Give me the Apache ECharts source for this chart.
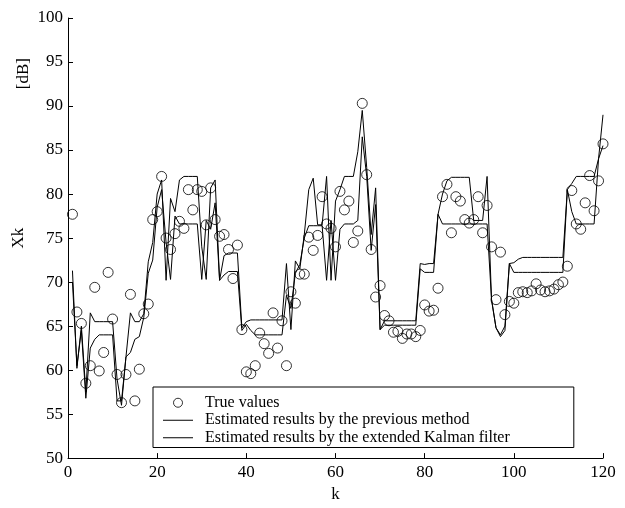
<!DOCTYPE html>
<html>
<head>
<meta charset="utf-8">
<script src="https://cdn.jsdelivr.net/npm/echarts@6/dist/echarts.min.js"></script>
<style>
html,body{margin:0;padding:0;background:#fff;}
#chart{width:625px;height:508px;}
</style>
</head>
<body>
<div id="chart"></div>
<script>
// k = 1..120
var trueValues = [
 77.7,66.6,65.3,58.5,60.5,69.4,59.9,62.0,71.1,65.8,
 59.5,56.3,59.5,68.6,56.5,60.1,66.4,67.5,77.1,78.0,
 82.0,75.0,73.7,75.5,76.9,76.1,80.5,78.2,80.5,80.3,
 76.5,80.7,77.1,75.2,75.4,73.7,70.4,74.2,64.6,59.8,
 59.6,60.5,64.2,63.0,61.9,66.5,62.5,65.6,60.5,68.9,
 67.6,70.9,70.9,75.1,73.6,75.3,79.7,76.6,76.1,74.0,
 80.3,78.2,79.2,74.5,75.8,90.3,82.2,73.7,68.3,69.6,
 66.2,65.6,64.3,64.4,63.6,64.1,64.1,63.8,64.5,67.4,
 66.7,66.8,69.3,79.7,81.1,75.6,79.7,79.2,77.1,76.7,
 77.1,79.7,75.6,78.7,74.0,68.0,73.4,66.3,67.8,67.6,
 68.8,68.9,68.8,69.0,69.8,69.1,68.9,69.0,69.2,69.7,
 70.0,71.8,80.4,76.6,76.0,79.0,82.1,78.1,81.5,85.7
];
var previousMethod = [
 71.3,60.2,65.0,57.5,66.5,65.5,65.5,65.5,65.5,65.5,
 59.0,56.0,61.5,66.5,65.5,65.5,66.4,72.3,74.5,80.0,
 81.6,70.2,79.5,78.0,81.6,82.0,82.0,82.0,82.0,74.0,
 70.3,80.7,81.6,70.2,73.0,73.3,73.3,73.3,64.8,65.5,
 65.7,65.7,65.7,65.7,65.7,65.7,65.7,65.7,72.1,64.6,
 72.4,71.5,75.4,80.5,81.8,76.5,76.5,82.0,70.2,79.2,
 80.5,82.0,82.0,82.0,84.8,89.5,83.0,75.4,80.7,64.6,
 65.6,65.6,65.6,65.6,65.6,65.6,65.6,65.6,72.1,72.0,
 72.1,72.1,77.7,80.0,81.5,81.9,81.9,81.9,81.9,81.9,
 77.0,77.0,77.0,82.0,68.0,64.8,64.0,65.0,72.1,72.2,
 72.6,72.8,72.8,72.8,72.8,72.8,72.8,72.8,72.8,72.8,
 72.8,80.5,81.2,82.0,82.0,82.0,82.0,82.0,84.0,89.0
];
var ekf = [
 70.0,60.5,64.5,56.8,62.5,63.5,64.0,64.0,64.0,64.0,
 56.5,56.5,61.5,62.0,63.5,63.8,66.0,71.0,72.5,78.5,
 80.5,74.5,70.3,77.5,76.6,76.6,76.6,76.6,76.6,70.3,
 77.0,76.0,79.0,70.2,70.8,71.2,71.2,71.2,64.5,65.2,
 64.5,64.0,64.0,64.0,64.0,64.0,64.0,64.0,68.5,67.0,
 71.0,72.0,75.0,76.4,76.4,76.4,76.4,70.2,77.0,70.2,
 76.0,76.6,76.6,76.6,77.0,86.5,82.0,73.6,78.8,64.6,
 65.1,65.1,65.1,65.1,65.1,65.1,65.1,65.1,71.5,71.1,
 71.1,71.1,77.7,76.6,76.6,76.6,76.6,76.6,76.6,76.6,
 76.6,76.6,76.6,76.6,68.0,64.8,63.8,64.5,72.1,71.1,
 71.1,71.1,71.1,71.1,71.1,71.1,71.1,71.1,71.1,71.1,
 71.1,80.5,78.0,76.6,76.6,76.6,76.6,76.6,84.0,85.5
];
var seriesNames = ['True values','Estimated results by the previous method','Estimated results by the extended Kalman filter'];
var xTicks = {min:0, max:120, interval:20};
var yTicks = {min:50, max:100, interval:5};

function pairs(arr){ return arr.map(function(v,i){ return [i+1, v]; }); }

var FONT = 'Liberation Serif';
var LINE_ICON = 'path://M0,0H30V1H0Z';
var chart = echarts.init(document.getElementById('chart'), null, {renderer:'canvas'});
chart.setOption({
  animation:false,
  backgroundColor:'#fff',
  grid:{left:68, right:22, top:18, bottom:45, containLabel:false},
  xAxis:{type:'value', min:xTicks.min, max:xTicks.max, interval:xTicks.interval,
    name:'k', nameLocation:'middle', nameGap:22,
    nameTextStyle:{fontFamily:FONT, fontSize:17, color:'#000'},
    axisLine:{show:true, onZero:false, lineStyle:{color:'#000', width:1}},
    axisTick:{show:true, inside:true, length:5, lineStyle:{color:'#000'}},
    axisLabel:{fontFamily:FONT, fontSize:17, color:'#000', margin:6},
    splitLine:{show:false}},
  yAxis:{type:'value', min:yTicks.min, max:yTicks.max, interval:yTicks.interval,
    name:'Xk', nameLocation:'middle', nameGap:33, nameRotate:90,
    nameTextStyle:{fontFamily:FONT, fontSize:17, color:'#000'},
    axisLine:{show:true, onZero:false, lineStyle:{color:'#000', width:1}},
    axisTick:{show:true, inside:true, length:5, lineStyle:{color:'#000'}},
    axisLabel:{fontFamily:FONT, fontSize:17, color:'#000', margin:5},
    splitLine:{show:false}},
  legend:{
    left:153, top:387, orient:'vertical',
    backgroundColor:'#fff', borderColor:'#000', borderWidth:1, borderRadius:0,
    padding:[7,64,1,10], itemGap:0, itemWidth:30, itemHeight:9,
    textStyle:{fontFamily:FONT, fontSize:16, color:'#000', lineHeight:17.5, padding:[0,0,0,7]},
    data:[
      {name:seriesNames[0], icon:'circle', itemStyle:{color:'#fff', borderColor:'#000', borderWidth:1}},
      {name:seriesNames[1], icon:LINE_ICON, itemStyle:{color:'#000', borderWidth:0}},
      {name:seriesNames[2], icon:LINE_ICON, itemStyle:{color:'#000', borderWidth:0}}
    ]
  },
  graphic:[{type:'text', left:15, top:58, rotation:Math.PI/2,
    style:{text:'[dB]', fontFamily:FONT, fontSize:17, fill:'#000'}}],
  series:[
    {name:seriesNames[0], type:'scatter', data:pairs(trueValues), symbol:'circle', symbolSize:10,
      itemStyle:{color:'rgba(0,0,0,0)', borderColor:'#000', borderWidth:1}, z:3},
    {name:seriesNames[1], type:'line', data:pairs(previousMethod), symbol:'none',
      lineStyle:{color:'#000', width:1}, itemStyle:{color:'#000'}, z:2},
    {name:seriesNames[2], type:'line', data:pairs(ekf), symbol:'none',
      lineStyle:{color:'#000', width:1}, itemStyle:{color:'#000'}, z:2}
  ]
});
</script>
</body>
</html>
